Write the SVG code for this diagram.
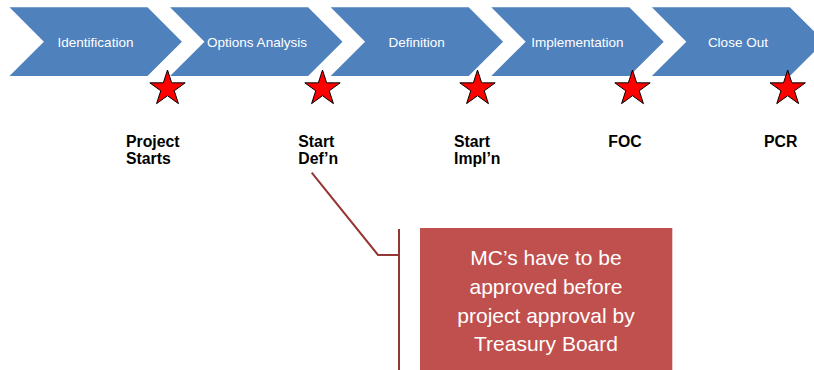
<svg xmlns="http://www.w3.org/2000/svg" width="814" height="370" viewBox="0 0 814 370">
<style>
.chev{fill:#4F81BD}
.ct{font-family:"Liberation Sans",Arial,sans-serif;font-size:13.5px;fill:#FFFFFF;text-anchor:middle}
.star{fill:#FF0000;stroke:#000000;stroke-width:1}
.lbl{font-family:"Liberation Sans",Arial,sans-serif;font-size:15.8px;font-weight:bold;fill:#000000}
.lead{fill:none;stroke:#943634;stroke-width:2}
.box{fill:#C0504D}
.bt{font-family:"Liberation Sans",Arial,sans-serif;font-size:21px;fill:#FFFFFF;text-anchor:middle}
</style>
<defs>
<path id="chevron" d="M0,7.3 L138,7.3 L172.4,41.65 L138,76 L0,76 L34.4,41.65 Z"/>
<path id="star" d="M0,-18.6 L4.17,-5.74 L17.69,-5.75 L6.75,2.19 L10.94,15.05 L0,7.1 L-10.94,15.05 L-6.75,2.19 L-17.69,-5.75 L-4.17,-5.74 Z"/>
</defs>
<g id="phase-identification">
<use href="#chevron" class="chev" x="9.5"/>
<text class="ct" x="95.5" y="46.5">Identification</text>
</g>
<g id="phase-options">
<use href="#chevron" class="chev" x="170.1"/>
<text class="ct" x="257" y="46.5">Options Analysis</text>
</g>
<g id="phase-definition">
<use href="#chevron" class="chev" x="330.7"/>
<text class="ct" x="416.7" y="46.5">Definition</text>
</g>
<g id="phase-implementation">
<use href="#chevron" class="chev" x="491.3"/>
<text class="ct" x="577.3" y="46.5">Implementation</text>
</g>
<g id="phase-closeout">
<use href="#chevron" class="chev" x="651.9"/>
<text class="ct" x="737.9" y="46.5">Close Out</text>
</g>
<g id="milestone-project-starts">
<use href="#star" class="star" transform="translate(167.5,88.6)"/>
<text class="lbl" x="126" y="147.3">Project</text>
<text class="lbl" x="126" y="164">Starts</text>
</g>
<g id="milestone-start-defn">
<use href="#star" class="star" transform="translate(322.5,88.6)"/>
<text class="lbl" x="298.3" y="147.3">Start</text>
<text class="lbl" x="298.3" y="164">Def’n</text>
</g>
<g id="milestone-start-impln">
<use href="#star" class="star" transform="translate(477.5,88.6)"/>
<text class="lbl" x="454" y="147.3">Start</text>
<text class="lbl" x="454" y="164">Impl’n</text>
</g>
<g id="milestone-foc">
<use href="#star" class="star" transform="translate(632.5,88.6)"/>
<text class="lbl" x="608.3" y="147.3">FOC</text>
</g>
<g id="milestone-pcr">
<use href="#star" class="star" transform="translate(787.7,88.6)"/>
<text class="lbl" x="764" y="147.3">PCR</text>
</g>
<g id="connectors">
<polyline class="lead" points="311.7,172.7 378,255 399,255"/>
<line class="lead" x1="399" y1="229" x2="399" y2="370"/>
</g>
<g id="callout">
<rect class="box" x="420" y="228" width="252.3" height="142"/>
<text class="bt" x="546" y="265.3">MC’s have to be</text>
<text class="bt" x="546" y="294.3">approved before</text>
<text class="bt" x="546" y="322.7">project approval by</text>
<text class="bt" x="546" y="351.3">Treasury Board</text>
</g>
</svg>
